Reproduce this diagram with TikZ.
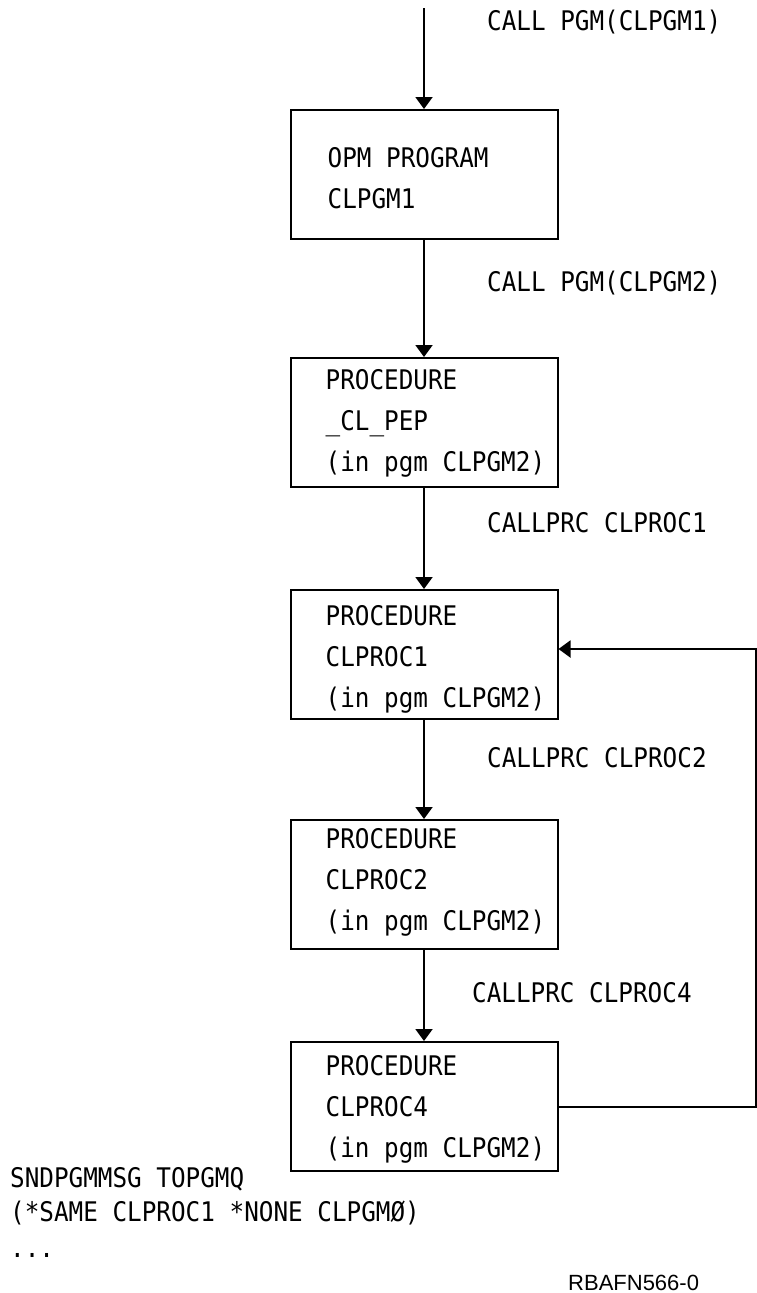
\documentclass[tikz,border=0pt]{standalone}
\usepackage{fontspec}
\setmonofont[FakeStretch=0.9]{DejaVu Sans Mono}
\setsansfont{Liberation Sans}
\usetikzlibrary{arrows.meta,positioning,calc}

\begin{document}
\begin{tikzpicture}[x=1pt,y=-1pt,
  font=\ttfamily\fontsize{27}{41}\selectfont,
  proc/.style={draw,line width=2pt,minimum width=267pt,minimum height=129pt,
               inner sep=0pt},
  txt/.style={anchor=west,align=left,inner sep=0pt},
  lbl/.style={anchor=west,inner sep=0pt},
  arr/.style={-{Triangle[width=17pt,length=12pt]},line width=2pt}]
\useasboundingbox (0,0) rectangle (757,1293);
\coordinate (entry) at (424,8);
\coordinate (loopx) at (755.5,0);
\node[proc] (pgm1) at (424,174.5) {};
\node[txt] (pgm1t) at ([xshift=38pt,yshift=-4pt]pgm1.west) {OPM PROGRAM\\CLPGM1};
\node[proc,below=117pt of pgm1] (pep) {};
\node[txt] (pept) at ([xshift=36pt,yshift=-1pt]pep.west) {PROCEDURE\\\_CL\_PEP\\(in pgm CLPGM2)};
\node[proc,below=101pt of pep] (cp1) {};
\node[txt] (cp1t) at ([xshift=36pt,yshift=-5pt]cp1.west) {PROCEDURE\\CLPROC1\\(in pgm CLPGM2)};
\node[proc,below=99pt of cp1] (cp2) {};
\node[txt] (cp2t) at ([xshift=36pt,yshift=2pt]cp2.west) {PROCEDURE\\CLPROC2\\(in pgm CLPGM2)};
\node[proc,below=91pt of cp2] (cp4) {};
\node[txt] (cp4t) at ([xshift=36pt,yshift=-3pt]cp4.west) {PROCEDURE\\CLPROC4\\(in pgm CLPGM2)};
% call labels
\node[lbl] (c1) at (487,22) {CALL PGM(CLPGM1)};
\node[lbl] (c2) at (487,283) {CALL PGM(CLPGM2)};
\node[lbl] (c3) at (487,523) {CALLPRC CLPROC1};
\node[lbl] (c4) at (487,758) {CALLPRC CLPROC2};
\node[lbl] (c5) at (472,993) {CALLPRC CLPROC4};
\draw[arr] (entry) -- (pgm1.north);
\draw[arr] (pgm1) -- (pep);
\draw[arr] (pep) -- (cp1);
\draw[arr] (cp1) -- (cp2);
\draw[arr] (cp2) -- (cp4);
\draw[arr] (cp4.east) -- (cp4.east -| loopx) |- ([yshift=5.5pt]cp1.east);
% message text
\node[lbl] (snd) at (10,1179) {SNDPGMMSG TOPGMQ};
\node[lbl] (same) at (10,1213) {(*SAME CLPROC1 *NONE CLPGMØ)};
\node[lbl] (dots) at (10,1255) {...};
\node[lbl,font=\sffamily\fontsize{22}{22}\selectfont] (fig) at (568,1283) {RBAFN566-0};
\end{tikzpicture}
\end{document}
